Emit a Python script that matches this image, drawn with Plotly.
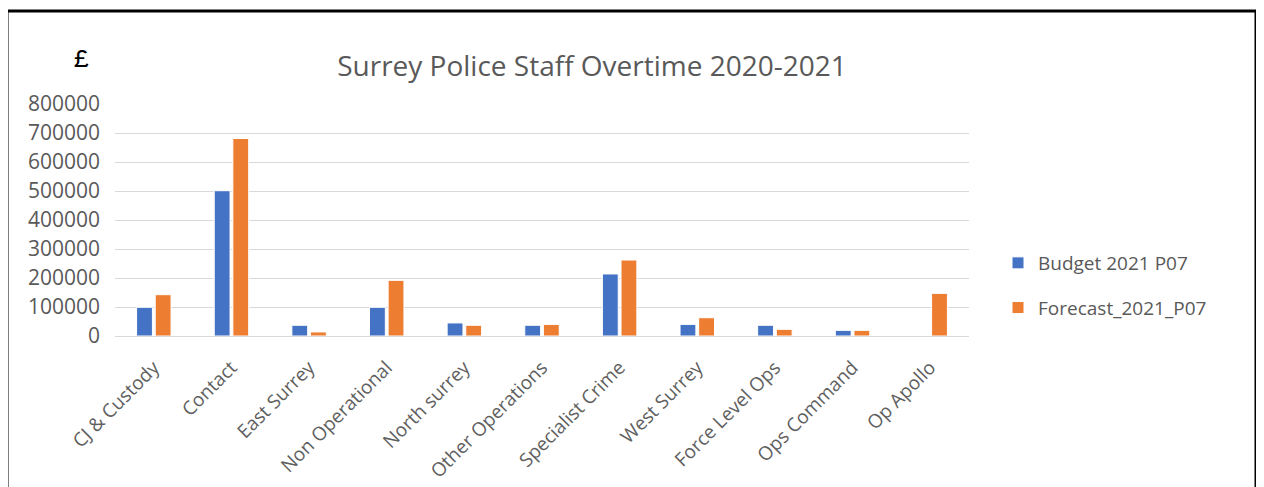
import plotly.graph_objects as go

categories = ["CJ & Custody", "Contact", "East Surrey", "Non Operational", "North surrey",
              "Other Operations", "Specialist Crime", "West Surrey", "Force Level Ops",
              "Ops Command", "Op Apollo"]
budget = [99000, 501000, 37000, 99000, 45000, 37000, 214000, 40000, 37000, 19500, 0]
forecast = [142500, 681000, 14000, 192000, 37000, 40000, 262000, 63000, 23000, 19500, 147000]
y_ticks = [0, 100000, 200000, 300000, 400000, 500000, 600000, 700000, 800000]

OFF = 8  # page body margin
W, H = 1264 - OFF, 487 - OFF
L, R, T, B = 115 - OFF, 969 - OFF, 104 - OFF, 336 - OFF

def px(x):
    return (x - OFF - L) / (R - L)

def py(y):
    return (B - (y - OFF)) / (B - T)

fig = go.Figure()
fig.add_trace(go.Bar(x=categories, y=budget, name="Budget 2021 P07",
                     marker=dict(color="#4472C4", line=dict(color="white", width=1)),
                     legendgroup="a"))
fig.add_trace(go.Bar(x=categories, y=forecast, name="Forecast_2021_P07",
                     marker=dict(color="#ED7D31", line=dict(color="white", width=1)),
                     legendgroup="b"))

font = "Open Sans"
fig.update_layout(
    width=W, height=H,
    margin=dict(l=L, r=W - R, t=T, b=H - B, pad=0, autoexpand=False),
    paper_bgcolor="white", plot_bgcolor="white",
    barmode="group", bargap=0.52, bargroupgap=0.15,
    font=dict(family=font, color="#595959"),
    title=dict(text="Surrey Police Staff Overtime 2020-2021", x=(592 - OFF) / W, xanchor="center",
               xref="container", yref="container",
               y=1 - (66 - OFF) / H, yanchor="middle", font=dict(size=28, color="#595959", family=font)),
    xaxis=dict(tickangle=-45, tickfont=dict(size=19, color="#5f5f5f"), showline=True,
               linecolor="#D9D9D9", linewidth=1, ticks="", showgrid=False, automargin=False,
               ticklabelstandoff=12),
    yaxis=dict(range=[0, 800000], tickvals=y_ticks, ticktext=[str(v) for v in y_ticks],
               tickfont=dict(size=21, color="#595959"), showgrid=True, gridcolor="#D9D9D9",
               gridwidth=1, zeroline=False, ticks="", ticklabelstandoff=14, automargin=False),
    legend=dict(x=px(998), y=py(244), xanchor="left", yanchor="top",
                font=dict(size=19, color="#595959"), traceorder="grouped",
                tracegroupgap=17, bgcolor="rgba(0,0,0,0)"),
    showlegend=True,
)

fig.add_annotation(text="£", xref="paper", yref="paper", x=px(81), y=py(44),
                   xanchor="center", showarrow=False,
                   font=dict(family="Liberation Mono", size=25, color="black"))

line = dict(color="black", width=3)
fig.add_shape(type="line", xref="paper", yref="paper", x0=px(7), x1=px(1256), y0=py(11), y1=py(11), line=line)
fig.add_shape(type="line", xref="paper", yref="paper", x0=px(7), x1=px(7), y0=py(11), y1=py(495), line=line)
fig.add_shape(type="line", xref="paper", yref="paper", x0=px(1256), x1=px(1256), y0=py(11), y1=py(495), line=line)

fig.write_html("out.html")
